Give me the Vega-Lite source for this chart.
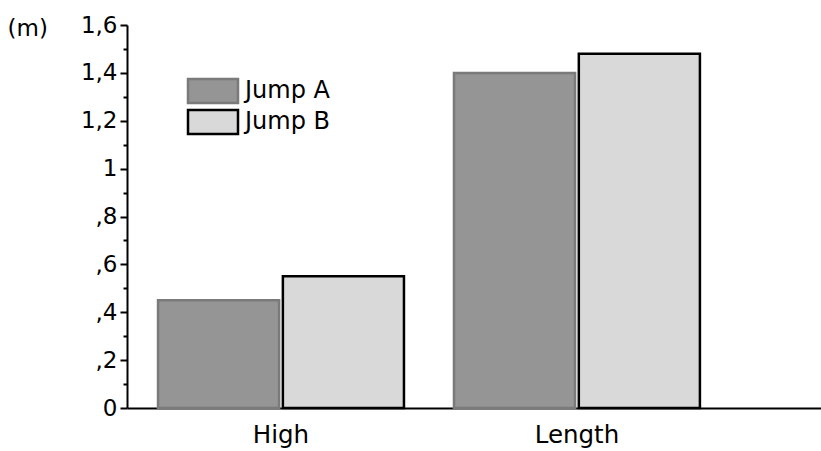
{
  "$schema": "https://vega.github.io/schema/vega-lite/v6.json",
  "autosize": {"type": "none"},
  "padding": {"left": 127, "top": 25, "right": 0, "bottom": 43},
  "width": 694,
  "height": 383,
  "background": "white",
  "data": {"values": [
    {"category": "High", "series": "Jump A", "value": 0.45},
    {"category": "High", "series": "Jump B", "value": 0.55},
    {"category": "Length", "series": "Jump A", "value": 1.40},
    {"category": "Length", "series": "Jump B", "value": 1.48}
  ]},
  "config": {
    "font": "DejaVu Sans",
    "view": {"stroke": null}
  },
  "mark": {"type": "bar", "strokeWidth": 2.5},
  "encoding": {
    "x": {
      "field": "category", "type": "nominal", "sort": ["High", "Length"],
      "scale": {"paddingInner": 0.169, "paddingOuter": 0.257, "align": 0.204},
      "axis": {
        "title": null, "labelAngle": 0, "labelFontSize": 24.5, "labelColor": "black",
        "labelPadding": 15, "ticks": false, "domainColor": "black", "domainWidth": 2
      }
    },
    "xOffset": {
      "field": "series", "type": "nominal",
      "scale": {"paddingInner": 0.03}
    },
    "y": {
      "field": "value", "type": "quantitative",
      "scale": {"domain": [0, 1.6], "nice": false},
      "axis": {
        "title": "(m)", "titleAngle": 0, "titleFontSize": 23, "titleFontWeight": "normal",
        "titleColor": "black", "titleAlign": "left", "titleBaseline": "middle",
        "titleX": -120, "titleY": 3,
        "values": [0, 0.1, 0.2, 0.3, 0.4, 0.5, 0.6, 0.7, 0.8, 0.9, 1.0, 1.1, 1.2, 1.3, 1.4, 1.5, 1.6],
        "labelExpr": "round(datum.value*10) % 2 == 1 ? '' : (datum.value == 0 ? '0' : datum.value == 1 ? '1' : (datum.value < 1 ? '' : '1') + ',' + format((datum.value % 1) * 10, '.0f'))",
        "labelFontSize": 23, "labelColor": "black", "labelPadding": 3,
        "grid": false, "domainColor": "black", "domainWidth": 2,
        "tickColor": "black", "tickWidth": 2,
        "tickSize": {"condition": {"test": "round(datum.value*10) % 2 == 1", "value": 4}, "value": 7}
      }
    },
    "fill": {
      "field": "series", "type": "nominal",
      "scale": {"domain": ["Jump A", "Jump B"], "range": ["#959595", "#d9d9d9"]},
      "legend": {
        "title": null, "orient": "none", "legendX": 72, "legendY": 52,
        "symbolType": "M-2,-0.96H2V0.96H-2Z", "symbolSize": 625,
        "symbolStrokeWidth": 2.5, "labelFontSize": 24, "labelColor": "black",
        "labelOffset": 18, "padding": 0, "rowPadding": -5
      }
    },
    "stroke": {
      "field": "series", "type": "nominal",
      "scale": {"domain": ["Jump A", "Jump B"], "range": ["#7a7a7a", "#000000"]},
      "legend": {
        "title": null, "orient": "none", "legendX": 72, "legendY": 52,
        "symbolType": "M-2,-0.96H2V0.96H-2Z", "symbolSize": 625,
        "symbolStrokeWidth": 2.5, "labelFontSize": 24, "labelColor": "black",
        "labelOffset": 18, "padding": 0, "rowPadding": -5
      }
    }
  }
}
